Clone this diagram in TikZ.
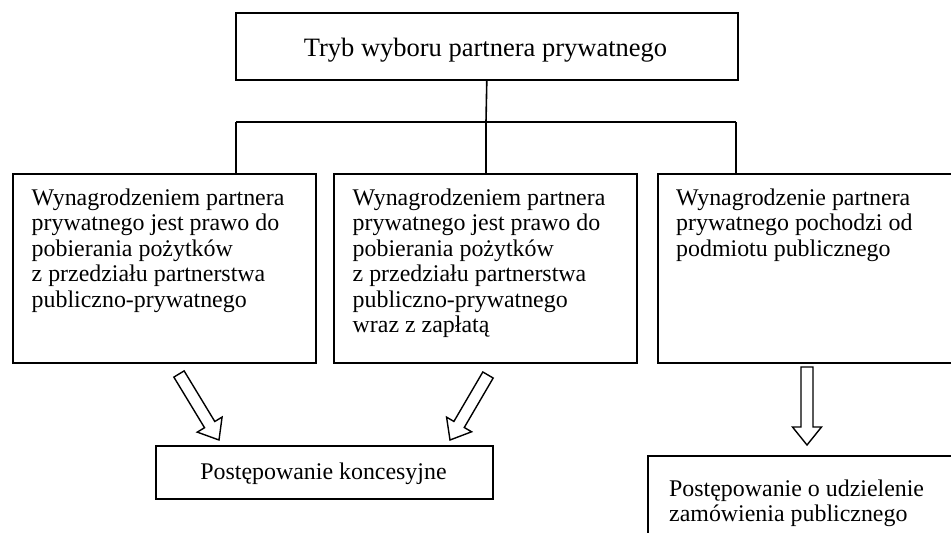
\documentclass[tikz,border=0pt]{standalone}
\usepackage{fontspec}
\setmainfont{Liberation Serif}
\usetikzlibrary{calc}

% hollow block arrow from #1 (tail) to #2 (tip)
\newcommand\blockarrow[2]{%
  \coordinate (#1-#2-neck) at ($(#2)!18pt!(#1)$);
  \draw[arrowshape]
    ($(#1)!6pt!90:(#2)$) -- ($(#1-#2-neck)!6pt!90:(#2)$)
    -- ($(#1-#2-neck)!14.5pt!90:(#2)$) -- (#2)
    -- ($(#1-#2-neck)!14.5pt!-90:(#2)$) -- ($(#1-#2-neck)!6pt!-90:(#2)$)
    -- ($(#1)!6pt!-90:(#2)$) -- cycle;}

\begin{document}
\begin{tikzpicture}[x=1pt,y=-1pt,
  every node/.style={font=\fontsize{23.9}{25.5}\selectfont},
  box/.style={draw,line width=1.6pt,rectangle,anchor=north west,inner sep=0pt},
  boxtext/.style={anchor=north west,inner sep=0pt,align=left},
  link/.style={line width=1.6pt},
  arrowshape/.style={line width=1.4pt,fill=white,line join=miter}]
\useasboundingbox (0,0) rectangle (951,533);
\clip (0,0) rectangle (951,533);

% heading
\node[box,minimum width=502pt,minimum height=67pt] (top) at (235,12) {};
\node[inner sep=0pt,anchor=base,font=\fontsize{26.5}{30}\selectfont] (toptext) at (485.5,56.5) {Tryb wyboru partnera prywatnego};

% remuneration variants
\node[box,minimum width=303pt,minimum height=189pt] (b1) at (12,173) {};
\node[box,minimum width=303pt,minimum height=189pt] (b2) at (333,173) {};
\node[box,minimum width=320pt,minimum height=189pt] (b3) at (657,173) {};

\node[boxtext] (t1) at (31.5,187) {\strut Wynagrodzeniem partnera\\prywatnego jest prawo do\\pobierania pożytków\\z przedziału partnerstwa\\publiczno-prywatnego};
\node[boxtext] (t2) at (352.5,187) {\strut Wynagrodzeniem partnera\\prywatnego jest prawo do\\pobierania pożytków\\z przedziału partnerstwa\\publiczno-prywatnego\\wraz z zapłatą};
\node[boxtext] (t3) at (676,187) {\strut Wynagrodzenie partnera\\prywatnego pochodzi od\\podmiotu publicznego};

% procedures
\node[box,minimum width=337pt,minimum height=53pt] (p1) at (155,445) {};
\node[inner sep=0pt,anchor=base] (p1text) at (323.5,479) {Postępowanie koncesyjne};
\node[box,minimum width=330pt,minimum height=110pt] (p2) at (647,455) {};
\node[boxtext] (p2text) at (669,478) {\strut Postępowanie o udzielenie\\zamówienia publicznego};

% tree connectors
\coordinate (bus) at (486,122);
\coordinate (busL) at (236,122);
\coordinate (busR) at (736,122);
\draw[link] (top.south) -- (bus);
\draw[link] (busL) -- (busR);
\draw[link] (busL) -- (busL |- b1.north);
\draw[link] (bus) -- (bus |- b2.north);
\draw[link] (busR) -- (busR |- b3.north);

% block arrows
\coordinate (a1s) at (179,374);
\coordinate (a1e) at (219,440);
\coordinate (a2s) at (488,375);
\coordinate (a2e) at (450,440);
\coordinate (a3s) at (807,367);
\coordinate (a3e) at (807,445);
\blockarrow{a1s}{a1e}
\blockarrow{a2s}{a2e}
\blockarrow{a3s}{a3e}
\end{tikzpicture}
\end{document}
